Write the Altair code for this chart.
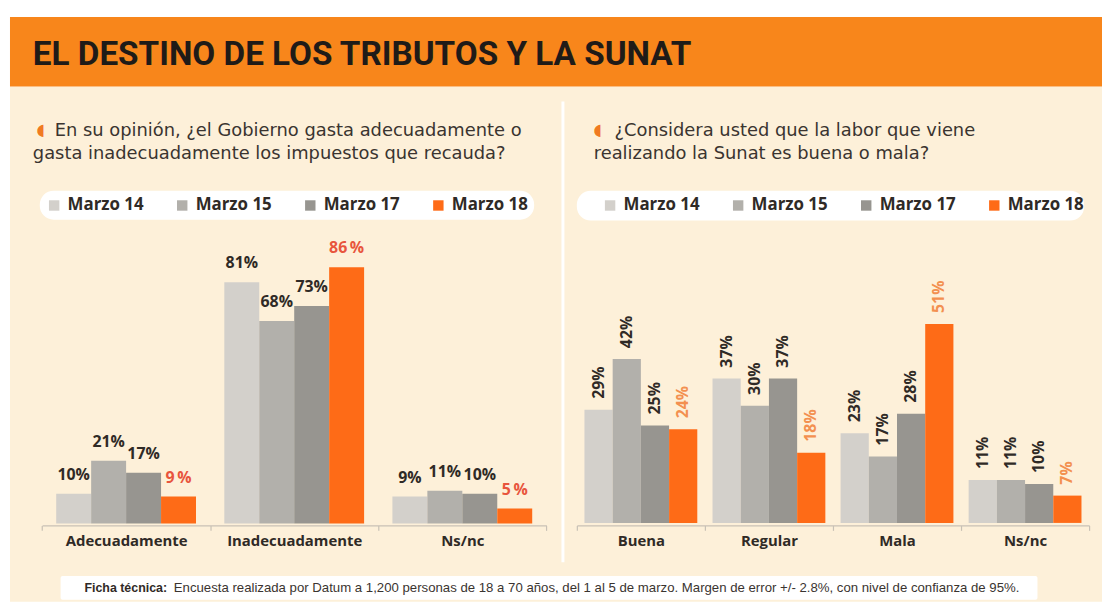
import altair as alt
import pandas as pd

# ---------------- data ----------------
TITLE = "EL DESTINO DE LOS TRIBUTOS Y LA SUNAT"
Q_LEFT = ["En su opinión, ¿el Gobierno gasta adecuadamente o",
          "gasta inadecuadamente los impuestos que recauda?"]
Q_RIGHT = ["¿Considera usted que la labor que viene",
           "realizando la Sunat es buena o mala?"]
FOOT_BOLD = "Ficha técnica:"
FOOT_TEXT = ("Encuesta realizada por Datum a 1,200 personas de 18 a 70 años, del 1 al 5 de marzo. "
             "Margen de error +/- 2.8%, con nivel de confianza de 95%.")

SERIES = ["Marzo 14", "Marzo 15", "Marzo 17", "Marzo 18"]

LEFT_CATS = ["Adecuadamente", "Inadecuadamente", "Ns/nc"]
LEFT_M14 = [10, 81, 9]
LEFT_M15 = [21, 68, 11]
LEFT_M17 = [17, 73, 10]
LEFT_M18 = [9, 86, 5]

RIGHT_CATS = ["Buena", "Regular", "Mala", "Ns/nc"]
RIGHT_M14 = [29, 37, 23, 11]
RIGHT_M15 = [42, 30, 17, 11]
RIGHT_M17 = [25, 37, 28, 10]
RIGHT_M18 = [24, 18, 51, 7]

# ---------------- styles ----------------
FONT = "Open Sans"
QFONT = "DejaVu Sans"
DARK = "#2f2a26"
BAR_COLORS = ["#d3d0cb", "#b2b0ab", "#979590", "#fe6b17"]
CREAM = "#fdf0d9"
ORANGE = "#f8861b"
AXIS_C = "#c8c1b5"


def long_df(cats, cols, hi_sep):
    rows = []
    for s, vals in zip(SERIES, cols):
        for c, v in zip(cats, vals):
            sep = hi_sep if s == "Marzo 18" else ""
            rows.append({"categoria": c, "serie": s, "valor": v, "etiqueta": f"{v}{sep}%"})
    return pd.DataFrame(rows)


left_df = long_df(LEFT_CATS, [LEFT_M14, LEFT_M15, LEFT_M17, LEFT_M18], "\u2009")
right_df = long_df(RIGHT_CATS, [RIGHT_M14, RIGHT_M15, RIGHT_M17, RIGHT_M18], "")

W, H = 1102, 596
one = pd.DataFrame({"k": [0]})


def panel(df, cats, xrange, off_pad, yrange, legend_x, legend_fill, hi_color, rotated):
    leg = dict(orient="none", legendX=legend_x, legendY=182,
               direction="horizontal", columns=4, title=None,
               symbolType="square", symbolSize=110, symbolStrokeWidth=0,
               labelFont=FONT, labelFontSize=17, labelFontWeight="bold",
               labelColor=DARK, labelOffset=5, columnPadding=30,
               cornerRadius=14, padding=6)
    if legend_fill:
        leg["fillColor"] = "white"
    base = alt.Chart(df).encode(
        x=alt.X("categoria:N", sort=cats,
                scale=alt.Scale(domain=cats, range=xrange, paddingInner=0, paddingOuter=0),
                axis=alt.Axis(title=None, orient="bottom", offset=-(H - 519), tickBand="extent",
                              tickSize=5, tickColor=AXIS_C, domainColor=AXIS_C, domainWidth=1.2,
                              tickWidth=1.2, labelAngle=0, labelFont=FONT, labelFontSize=15,
                              labelFontWeight="bold", labelColor=DARK, labelPadding=3, grid=False,
                              zindex=2)),
        xOffset=alt.XOffset("serie:N", sort=SERIES,
                            scale=alt.Scale(domain=SERIES, paddingInner=0, paddingOuter=off_pad)),
        y=alt.Y("valor:Q", scale=alt.Scale(domain=[0, 100], range=yrange), axis=None),
    )
    bars = base.mark_bar().encode(
        color=alt.Color("serie:N", sort=SERIES,
                        scale=alt.Scale(domain=SERIES, range=BAR_COLORS),
                        legend=alt.Legend(**leg))
    )
    if rotated:
        txt = base.mark_text(angle=270, align="left", baseline="middle", dx=11,
                             font=FONT, fontSize=16, fontWeight="bold")
    else:
        txt = base.mark_text(align="center", baseline="alphabetic", dy=-14,
                             font=FONT, fontSize=16, fontWeight="bold")
    txt = txt.encode(
        text="etiqueta:N",
        color=alt.condition(alt.datum.serie == "Marzo 18", alt.value(hi_color), alt.value(DARK)),
    )
    return alt.layer(bars, txt)


left = panel(left_df, LEFT_CATS, [34.3, 542.3], 0.405, [517, 217], 32, True, "#e8553d", False)
right = panel(right_df, RIGHT_CATS, [573, 1089], 0.27, [516.5, 123.5], 592, False, "#f39050", True)

# ---------------- decoration ----------------
bg = alt.Chart(one).mark_rect(color=CREAM).encode(
    x=alt.value(2), x2=alt.value(W), y=alt.value(77), y2=alt.value(H))
header = alt.Chart(one).mark_rect(color=ORANGE).encode(
    x=alt.value(2), x2=alt.value(W), y=alt.value(7), y2=alt.value(77))
title = alt.Chart(one).mark_text(align="left", baseline="alphabetic", font="Roboto", fontSize=33.5,
                                 fontWeight="bold", color="#1f1b18").encode(
    x=alt.value(25), y=alt.value(55), text=alt.value(TITLE))
divider = alt.Chart(one).mark_rule(color="white", strokeWidth=3).encode(
    x=alt.value(559), y=alt.value(92), y2=alt.value(556))
right_pill = alt.Chart(one).mark_rect(color="white", cornerRadius=14).encode(
    x=alt.value(573), x2=alt.value(1084), y=alt.value(182), y2=alt.value(212))


def question(lines, x_bullet, x1, x2, size):
    qs = dict(align="left", baseline="alphabetic", font=QFONT, fontSize=size, color="#3a3430")
    b = alt.Chart(one).mark_text(align="center", baseline="alphabetic", font="DejaVu Sans",
                                 fontSize=16, color="#f07a22").encode(
        x=alt.value(x_bullet), y=alt.value(126), text=alt.value("\u25D6"))
    l1 = alt.Chart(one).mark_text(**qs).encode(x=alt.value(x1), y=alt.value(127), text=alt.value(lines[0]))
    l2 = alt.Chart(one).mark_text(**qs).encode(x=alt.value(x2), y=alt.value(150), text=alt.value(lines[1]))
    return [b, l1, l2]


foot_box = alt.Chart(one).mark_rect(color="white", cornerRadius=2).encode(
    x=alt.value(53), x2=alt.value(1037), y=alt.value(570), y2=alt.value(594))
foot_font = "Liberation Sans"
foot_b = alt.Chart(one).mark_text(align="left", baseline="middle", font=foot_font, fontSize=12.5,
                                  fontWeight="bold", color="#2f2a26").encode(
    x=alt.value(77), y=alt.value(582), text=alt.value(FOOT_BOLD))
foot_t = alt.Chart(one).mark_text(align="left", baseline="middle", font=foot_font, fontSize=13.3,
                                  color="#3a3430").encode(
    x=alt.value(167), y=alt.value(582), text=alt.value(FOOT_TEXT))

layers = [bg, header, title, divider, right_pill] + question(Q_LEFT, 33, 47, 25, 18) + \
    question(Q_RIGHT, 594, 611, 590, 18) + [foot_box, foot_b, foot_t, left, right]

chart = alt.layer(*layers).resolve_scale(
    x="independent", y="independent", xOffset="independent", color="independent"
).properties(
    width=W, height=H, padding=0, autosize=alt.AutoSizeParams(type="none"), background="white"
).configure_view(stroke=None)

chart.save("out.html", embed_options={"renderer": "svg", "actions": False})
